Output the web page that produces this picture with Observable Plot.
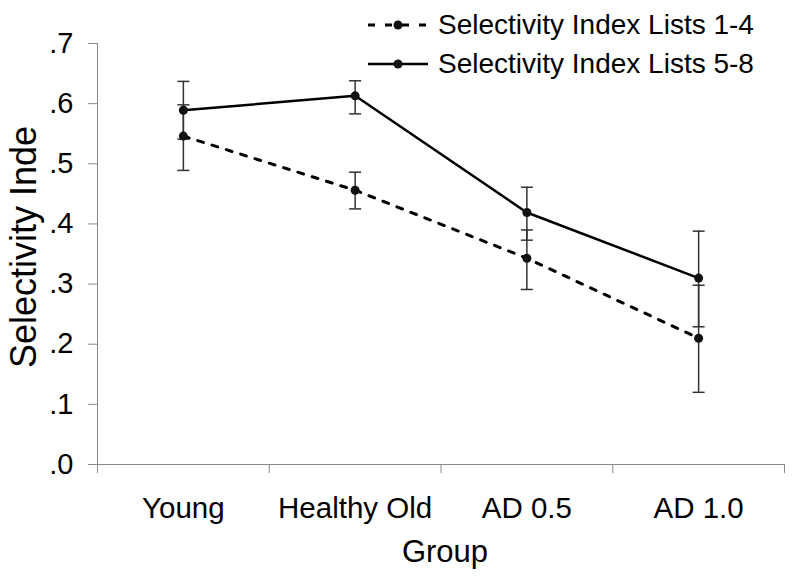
<!DOCTYPE html>
<html>
<head>
<meta charset="utf-8">
<script src="https://cdn.jsdelivr.net/npm/d3@7"></script>
<script src="https://cdn.jsdelivr.net/npm/@observablehq/plot@0.6"></script>
<style>
  html, body { margin: 0; padding: 0; background: #fff; }
  #wrap { position: relative; width: 800px; height: 577px; font-family: "Liberation Sans", Arial, sans-serif; }
  #legend { position: absolute; left: 368px; top: 5px; font-size: 28px; color: #000; }
  .row { display: flex; align-items: center; height: 39px; white-space: nowrap; }
  .row svg { margin-right: 10px; }
</style>
</head>
<body>
<div id="wrap"></div>
<script>
const groups = ["Young", "Healthy Old", "AD 0.5", "AD 1.0"];
const seriesNames = ["Selectivity Index Lists 1-4", "Selectivity Index Lists 5-8"];
const lists14 = [0.546, 0.456, 0.343, 0.210];
const lists14Low = [0.489, 0.425, 0.291, 0.120];
const lists14High = [0.598, 0.486, 0.390, 0.298];
const lists58 = [0.589, 0.613, 0.419, 0.310];
const lists58Low = [0.541, 0.583, 0.373, 0.229];
const lists58High = [0.637, 0.638, 0.461, 0.388];
const yTicks = [0, 0.1, 0.2, 0.3, 0.4, 0.5, 0.6, 0.7];

const rows = [];
groups.forEach((g, i) => {
  rows.push({series: seriesNames[0], group: g, idx: i, v: lists14[i], lo: lists14Low[i], hi: lists14High[i]});
  rows.push({series: seriesNames[1], group: g, idx: i, v: lists58[i], lo: lists58Low[i], hi: lists58High[i]});
});
const s14 = rows.filter(d => d.series === seriesNames[0]);
const s58 = rows.filter(d => d.series === seriesNames[1]);
const boundaries = d3.range(-0.5, groups.length, 1);

const capSymbol = {
  draw(ctx, size) {
    const r = Math.sqrt(size / Math.PI);
    ctx.moveTo(-r, 0);
    ctx.lineTo(r, 0);
  }
};

const font = '"Liberation Sans", Arial, sans-serif';
const axisColor = "#888";

const chart = Plot.plot({
  width: 800,
  height: 577,
  marginLeft: 97,
  marginRight: 16,
  marginTop: 43,
  marginBottom: 113,
  style: {fontFamily: font, fontSize: "28px", color: "#000", background: "#fff"},
  x: {type: "linear", domain: [-0.5, groups.length - 0.5]},
  y: {domain: [0, 0.7]},
  marks: [
    Plot.ruleY([0], {stroke: axisColor, strokeWidth: 1}),
    Plot.ruleX([-0.5], {stroke: axisColor, strokeWidth: 1}),
    Plot.axisY({ticks: yTicks, tickSize: 9, tickPadding: 15, stroke: axisColor,
      tickFormat: d => d3.format(".1f")(d).replace(/^0/, ""), label: null, fontSize: 29}),
    Plot.axisX({ticks: boundaries, tickSize: 9, stroke: axisColor, tickFormat: () => "", label: null}),
    Plot.axisX({ticks: groups.map((g, i) => i), tickSize: 0, tickPadding: 33,
      tickFormat: i => groups[i], label: null, fontSize: 29.5}),
    Plot.ruleX(rows, {x: "idx", y1: "lo", y2: "hi", stroke: "#333", strokeWidth: 1.5}),
    Plot.dot(rows, {x: "idx", y: "lo", symbol: capSymbol, r: 6, stroke: "#333", strokeWidth: 1.5}),
    Plot.dot(rows, {x: "idx", y: "hi", symbol: capSymbol, r: 6, stroke: "#333", strokeWidth: 1.5}),
    Plot.line(s14, {x: "idx", y: "v", stroke: "#000", strokeWidth: 3, strokeDasharray: "6,9"}),
    Plot.line(s58, {x: "idx", y: "v", stroke: "#000", strokeWidth: 2.5}),
    Plot.dot(rows, {x: "idx", y: "v", r: 4.5, fill: "#111", stroke: "none"}),
    Plot.text(["Selectivity Inde"], {frameAnchor: "left", rotate: -90, dx: -73, dy: -7,
      textAnchor: "middle", fontSize: 36, fill: "#000"}),
    Plot.text(["Group"], {frameAnchor: "bottom", dx: 4, dy: 97, textAnchor: "middle",
      fontSize: 31, fill: "#000"})
  ]
});

const wrap = document.getElementById("wrap");
wrap.appendChild(chart);

const legend = document.createElement("div");
legend.id = "legend";
seriesNames.forEach((name, i) => {
  const row = document.createElement("div");
  row.className = "row";
  const dash = i === 0 ? 'stroke-dasharray="7,10"' : '';
  row.innerHTML = `<svg width="60" height="20"><line x1="0" y1="10" x2="60" y2="10" stroke="#000" stroke-width="${i === 0 ? 3 : 2.5}" ${dash}/><circle cx="30" cy="10" r="4.5" fill="#111"/></svg><span>${name}</span>`;
  legend.appendChild(row);
});
wrap.appendChild(legend);
</script>
</body>
</html>
